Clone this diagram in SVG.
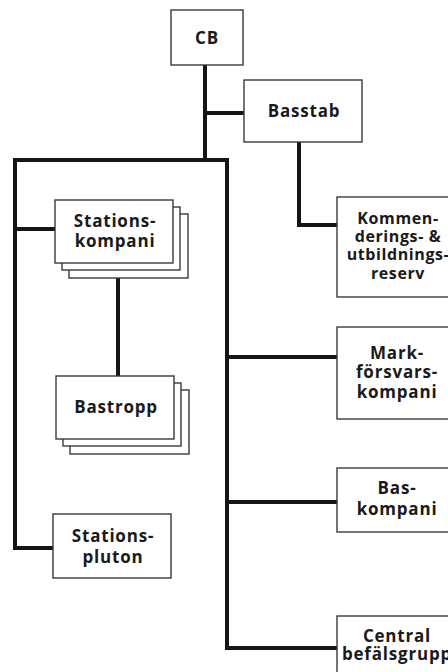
<svg xmlns="http://www.w3.org/2000/svg" width="448" height="672" viewBox="0 0 448 672">
<style>
.box{fill:#fff;stroke:#3a3a3a;stroke-width:1.4}
.ln{fill:none;stroke:#151515;stroke-width:4;stroke-linejoin:miter;stroke-linecap:square}
text{font-family:"Open Sans","DejaVu Sans",sans-serif;font-weight:700;fill:#1a1a1a;text-anchor:middle;letter-spacing:0.8px}
.t{font-size:17px}
.s{font-size:16px;letter-spacing:0.6px}
</style>
<rect width="448" height="672" fill="#fff"/>
<g id="connectors">
<polyline class="ln" points="205,66 205,160"/>
<polyline class="ln" points="205,113 243,113"/>
<polyline class="ln" points="15,229 15,160 227,160 227,648 336,648"/>
<polyline class="ln" points="15,229 15,548 52,548"/>
<polyline class="ln" points="15,229 54,229"/>
<polyline class="ln" points="299,143 299,225 336,225"/>
<polyline class="ln" points="118,279 118,375"/>
<polyline class="ln" points="227,357 336,357"/>
<polyline class="ln" points="227,502 336,502"/>
</g>
<g id="cb">
<rect class="box" x="171" y="10" width="72" height="55"/>
<text class="t" x="207" y="44">CB</text>
</g>
<g id="basstab">
<rect class="box" x="244" y="80" width="118" height="62"/>
<text class="t" x="304" y="117">Basstab</text>
</g>
<g id="stationskompani">
<rect class="box" x="69" y="214" width="119" height="64"/>
<rect class="box" x="62" y="207" width="118" height="63"/>
<rect class="box" x="55" y="200" width="118" height="63"/>
<text class="t" x="115" y="227">Stations-</text>
<text class="t" x="115" y="247">kompani</text>
</g>
<g id="bastropp">
<rect class="box" x="70" y="390" width="119" height="64"/>
<rect class="box" x="63" y="383" width="118" height="63"/>
<rect class="box" x="56" y="376" width="118" height="63"/>
<text class="t" x="116" y="413">Bastropp</text>
</g>
<g id="stationspluton">
<rect class="box" x="53" y="514" width="118" height="64"/>
<text class="t" x="113" y="542">Stations-</text>
<text class="t" x="113" y="563">pluton</text>
</g>
<g id="kommenderings">
<rect class="box" x="337" y="197" width="118" height="100"/>
<text class="s" x="398" y="224">Kommen-</text>
<text class="s" x="398" y="242">derings- &amp;</text>
<text class="s" x="398" y="260">utbildnings-</text>
<text class="s" x="398" y="279">reserv</text>
</g>
<g id="markforsvars">
<rect class="box" x="337" y="327" width="118" height="92"/>
<text class="t" x="397" y="359">Mark-</text>
<text class="t" x="397" y="378">försvars-</text>
<text class="t" x="397" y="398">kompani</text>
</g>
<g id="baskompani">
<rect class="box" x="337" y="468" width="118" height="64"/>
<text class="t" x="397" y="494">Bas-</text>
<text class="t" x="397" y="515">kompani</text>
</g>
<g id="central">
<rect class="box" x="337" y="616" width="118" height="70"/>
<text class="t" x="397" y="642">Central</text>
<text class="t" x="397" y="660">befälsgrupp</text>
</g>
</svg>
